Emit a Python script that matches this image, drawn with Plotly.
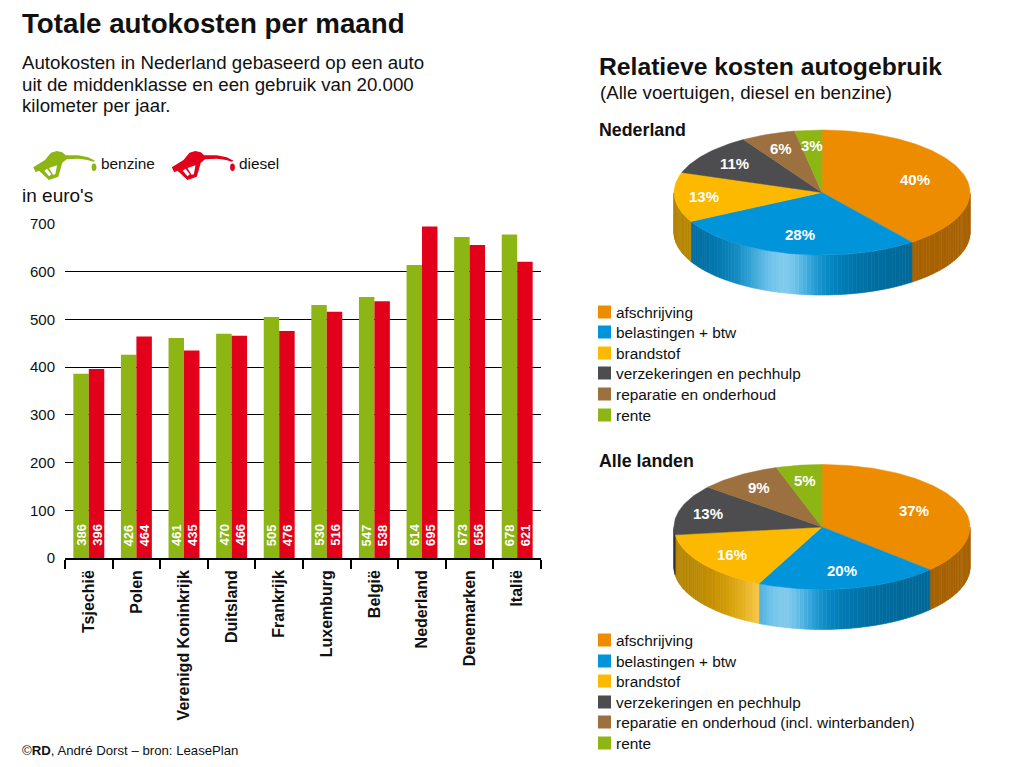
import math
import plotly.graph_objects as go

# ---- data ----
countries = ["Tsjechië", "Polen", "Verenigd Koninkrijk", "Duitsland", "Frankrijk",
             "Luxemburg", "België", "Nederland", "Denemarken", "Italië"]
benzine = [386, 426, 461, 470, 505, 530, 547, 614, 673, 678]
diesel = [396, 464, 435, 466, 476, 516, 538, 695, 656, 621]
pie_nl = [40, 28, 13, 11, 6, 3]
pie_all = [37, 20, 16, 13, 9, 5]
legend_nl = ["afschrijving", "belastingen + btw", "brandstof", "verzekeringen en pechhulp",
             "reparatie en onderhoud", "rente"]
legend_all = ["afschrijving", "belastingen + btw", "brandstof", "verzekeringen en pechhulp",
              "reparatie en onderhoud (incl. winterbanden)", "rente"]

# ---- style ----
FONT = "Liberation Sans"
GREEN = "#8DB513"
RED = "#E2001A"
SLICE_COLORS = ["#EE8C00", "#0095DB", "#FDB900", "#4D4D4F", "#9C703F", "#8DB514"]
RX, RY, DEPTH = 148, 62.5, 40
LABEL_R_NL = [.66, .68, .80, .75, .76, .75]
LABEL_R_ALL = [.68, .71, .75, .80, .76, .75]

fig = go.Figure()
fig.add_bar(x=countries, y=benzine, marker=dict(color=GREEN, line_width=0), xaxis="x", yaxis="y",
            hoverinfo="skip", showlegend=False)
fig.add_bar(x=countries, y=diesel, marker=dict(color=RED, line_width=0), xaxis="x", yaxis="y",
            hoverinfo="skip", showlegend=False)

annotations = []


def txt(x, y, s, size, bold=False, color="#111", anchor="left"):
    annotations.append(dict(x=x, y=y, xref="x2", yref="y2", text=f"<b>{s}</b>" if bold else s,
                            showarrow=False, xanchor=anchor, yanchor="middle", borderpad=0, borderwidth=0,
                            font=dict(family=FONT, size=size, color=color)))


for i, c in enumerate(countries):
    for val, shift in ((benzine[i], -8), (diesel[i], 8)):
        annotations.append(dict(x=c, y=0, xref="x", yref="y", text=f"<b>{val}</b>", showarrow=False,
                                xshift=shift, yshift=12, yanchor="bottom", xanchor="center", textangle=-90,
                                borderpad=0, borderwidth=0,
                                font=dict(family=FONT, size=13, color="white")))


def hex2rgb(h):
    return [int(h[i:i + 2], 16) for i in (1, 3, 5)]


def side_color(col, x):
    wide = math.exp(-((x + 38) / 62) ** 2)
    narrow = math.exp(-((x + 38) / (36 if x < -38 else 28)) ** 2)
    k = 0.70 + 0.30 * wide
    w = 0.50 * narrow
    r = [(v * k) * (1 - w) + 255 * w for v in hex2rgb(col)]
    return "rgb(%d,%d,%d)" % tuple(round(v) for v in r)


def pie3d(values, cx, cy, label_r):
    total = sum(values)
    a = 0.0
    spans = []
    for v in values:
        b = a + 360.0 * v / total
        spans.append((a, b))
        a = b
    pt = lambda t, dy=0: (cx + RX * math.sin(math.radians(t)), cy - RY * math.cos(math.radians(t)) + dy)
    # side wall
    for (a, b), col in zip(spans, SLICE_COLORS):
        lo, hi = max(a, 90.0), min(b, 270.0)
        t = lo
        while t < hi - 1e-6:
            t2 = min(t + 1.5, hi)
            ts = [t + (t2 - t) * j / 3 for j in range(4)]
            up = [pt(q) for q in ts]
            dn = [pt(q, DEPTH) for q in reversed(ts)]
            poly = up + dn + [up[0]]
            c = side_color(col, RX * math.sin(math.radians((t + t2) / 2)))
            fig.add_scatter(x=[p[0] for p in poly], y=[p[1] for p in poly], mode="lines", fill="toself",
                            fillcolor=c, line=dict(color=c, width=0.6), xaxis="x2", yaxis="y2",
                            hoverinfo="skip", showlegend=False)
            t = t2
    # top face
    for (a, b), col, v, r in zip(spans, SLICE_COLORS, values, label_r):
        n = max(2, int(b - a))
        poly = [(cx, cy)] + [pt(a + (b - a) * j / n) for j in range(n + 1)] + [(cx, cy)]
        fig.add_scatter(x=[p[0] for p in poly], y=[p[1] for p in poly], mode="lines", fill="toself",
                        fillcolor=col, line=dict(color=col, width=0.5), xaxis="x2", yaxis="y2",
                        hoverinfo="skip", showlegend=False)
        m = math.radians((a + b) / 2)
        txt(cx + r * RX * math.sin(m), cy - r * RY * math.cos(m), f"{v}%", 15, True, "white", "center")


pie3d(pie_nl, 822, 192.5, LABEL_R_NL)
pie3d(pie_all, 822, 527, LABEL_R_ALL)

# pie legends
for labels, ys in ((legend_nl, [312, 332, 353, 373, 394, 415]), (legend_all, [640, 661, 681, 702, 722, 743])):
    fig.add_scatter(x=[604.5] * 6, y=ys, mode="markers", xaxis="x2", yaxis="y2", hoverinfo="skip",
                    showlegend=False, marker=dict(symbol="square", size=13, color=SLICE_COLORS, line_width=0))
    for s, y in zip(labels, ys):
        txt(616, y, s, 15.4)

# texts
txt(22, 23, "Totale autokosten per maand", 27.7, True)
txt(22, 62, "Autokosten in Nederland gebaseerd op een auto", 18.7)
txt(22, 84, "uit de middenklasse en een gebruik van 20.000", 18.7)
txt(22, 105, "kilometer per jaar.", 18.7)
txt(101, 163, "benzine", 15.4)
txt(239, 163, "diesel", 15.4)
txt(22, 195, "in euro's", 19)
txt(599, 66, "Relatieve kosten autogebruik", 24.7, True)
txt(600, 92, "(Alle voertuigen, diesel en benzine)", 18.7)
txt(599, 130, "Nederland", 17.8, True)
txt(599, 461, "Alle landen", 17.8, True)
txt(22, 750, "©<b>RD</b>, André Dorst – bron: LeasePlan", 13.2)

# fuel nozzle icons
NOZZLE = [(25, 82), (60, 60), (78, 38), (95, 33), (112, 37), (122, 46), (160, 46), (190, 52), (210, 62), (205, 65),
          (188, 60), (160, 56), (125, 58), (112, 68), (100, 110), (72, 120), (50, 100), (42, 92), (32, 97)]
HOLES = [[(58, 92), (66, 86), (79, 103), (72, 109)], [(72, 84), (96, 76), (91, 103), (84, 104)]]
shapes = []


def icon_path(pts, dx):
    return "M " + " L ".join(f"{x / 3 + 25 + dx:.1f},{y / 3 + 140:.1f}" for x, y in pts) + " Z"


for dx, col in ((0, GREEN), (138.5, RED)):
    common = dict(type="path", xref="x2", yref="y2", line_width=0)
    shapes.append(dict(path=icon_path(NOZZLE, dx), fillcolor=col, **common))
    for hole in HOLES:
        shapes.append(dict(path=icon_path(hole, dx), fillcolor="white", **common))
    shapes.append(dict(type="circle", xref="x2", yref="y2", line_width=0, fillcolor=col,
                       x0=91.6 + dx, x1=96.4 + dx, y0=163.5, y1=171))

fig.update_layout(
    width=1024, height=767, autosize=False, margin=dict(l=0, r=0, t=0, b=0, autoexpand=False),
    paper_bgcolor="white", plot_bgcolor="rgba(0,0,0,0)", barmode="group", bargap=0.35, bargroupgap=0,
    showlegend=False, annotations=annotations, shapes=shapes,
    font=dict(family=FONT, color="#111"),
    xaxis=dict(domain=[65 / 1024, 541 / 1024], anchor="y", type="category", categoryorder="array",
               categoryarray=countries, tickson="boundaries", ticks="outside", ticklen=9, tickwidth=1.5,
               tickcolor="black", showline=True, linecolor="black", linewidth=1.5, showgrid=False,
               tickangle=-90, tickfont=dict(family=FONT, size=16, color="#111", weight=600), ticklabelstandoff=4,
               fixedrange=True),
    yaxis=dict(domain=[(767 - 558) / 767, (767 - 224) / 767], anchor="x", range=[0, 700], tickvals=list(range(0, 701, 100)),
               showgrid=True, gridcolor="black", gridwidth=1, zeroline=False, ticks="", showline=False,
               tickfont=dict(family=FONT, size=15, color="#111"), ticklabelstandoff=9, fixedrange=True),
    xaxis2=dict(domain=[0, 1], range=[0, 1024], anchor="y2", visible=False, fixedrange=True),
    yaxis2=dict(domain=[0, 1], range=[767, 0], anchor="x2", visible=False, fixedrange=True),
)

fig.write_html("out.html", config=dict(displayModeBar=False),
               post_script="document.body.style.margin='0';document.body.style.overflow='hidden';")
